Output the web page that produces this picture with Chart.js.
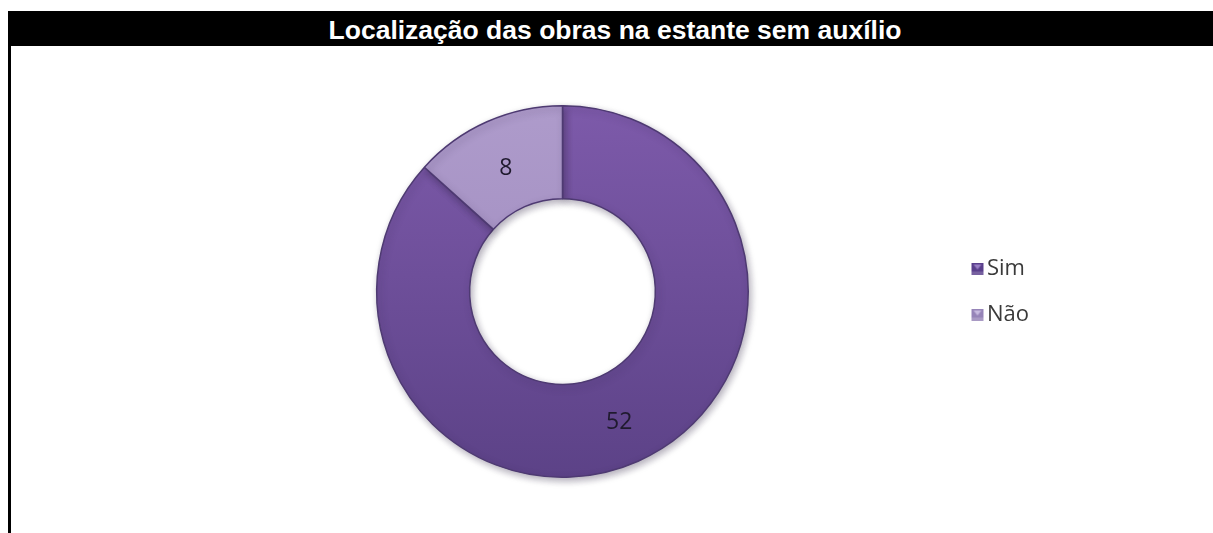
<!DOCTYPE html>
<html lang="pt">
<head>
<meta charset="utf-8">
<title>Localização das obras na estante sem auxílio</title>
<script src="https://cdn.jsdelivr.net/npm/chart.js@4/dist/chart.umd.min.js"></script>
<style>
  html, body { margin: 0; padding: 0; background: #fff; }
  body { width: 1213px; height: 533px; position: relative; overflow: hidden; }
  .frame {
    position: absolute; left: 8px; top: 11px; right: 0; bottom: 0;
    border-left: 3px solid #000;
  }
  .header {
    position: absolute; left: 8px; top: 11px; width: 1205px; height: 35px;
    background: #000; color: #fff; z-index: 2;
    font: bold 26.5px "Liberation Sans", Arial, sans-serif;
    line-height: 35px; text-align: center;
    box-sizing: border-box; padding: 2px 0 0 9px;
  }
  .chart-box { position: absolute; left: 0; top: 0; width: 1213px; height: 533px; z-index: 1; }
</style>
</head>
<body>
<div class="frame"></div>
<div class="header">Localização das obras na estante sem auxílio</div>
<div class="chart-box"><canvas id="obras"></canvas></div>

<script>
const categories = ['Sim', 'Não'];
const respostas = [52, 8];
// top and bottom shade of each slice
const coresTopo = ['#7d5aaa', '#ae9bcb'];
const coresBase = ['#5c4287', '#9a86ba'];
// legend swatch: body and lighter fold
const swatchCorpo = ['#5a3f8c', '#9684b8'];
const swatchBrilho = ['#9a80c6', '#c8bbe0'];

function sliceFill(context) {
  const chart = context.chart;
  const area = chart.chartArea;
  if (!area) return coresTopo[context.dataIndex];
  const g = chart.ctx.createLinearGradient(0, area.top, 0, area.bottom);
  g.addColorStop(0, coresTopo[context.dataIndex]);
  g.addColorStop(1, coresBase[context.dataIndex]);
  return g;
}

// 18px wide swatch, square sits on the right 12px so it hugs the label text
function makeSwatch(i) {
  const c = document.createElement('canvas');
  c.width = 18;
  c.height = 12;
  const g = c.getContext('2d');
  g.fillStyle = swatchCorpo[i];
  g.fillRect(5, 0, 12, 12);
  g.fillStyle = swatchBrilho[i];
  g.beginPath();
  g.moveTo(7, 2);
  g.lineTo(15, 2);
  g.lineTo(11, 7);
  g.closePath();
  g.fill();
  g.fillStyle = 'rgba(255,255,255,0.18)';
  g.fillRect(5, 9, 12, 3);
  return c;
}
const swatches = categories.map((_, i) => makeSwatch(i));

// soft shadow under the ring
const ringShadow = {
  id: 'ringShadow',
  beforeDatasetsDraw(chart) {
    const ctx = chart.ctx;
    ctx.save();
    ctx.shadowColor = 'rgba(40, 30, 60, 0.35)';
    ctx.shadowBlur = 7;
    ctx.shadowOffsetX = 2;
    ctx.shadowOffsetY = 3;
  },
  afterDatasetsDraw(chart) {
    chart.ctx.restore();
  }
};

// value written in the middle of each slice
const sliceValues = {
  id: 'sliceValues',
  afterDatasetsDraw(chart) {
    const ctx = chart.ctx;
    const meta = chart.getDatasetMeta(0);
    ctx.save();
    ctx.font = '23px "Open Sans", sans-serif';
    ctx.fillStyle = '#1f1a2e';
    ctx.textAlign = 'center';
    ctx.textBaseline = 'middle';
    meta.data.forEach((arc, i) => {
      const p = arc.tooltipPosition();
      ctx.fillText(String(chart.data.datasets[0].data[i]), p.x, p.y + 4);
    });
    ctx.restore();
  }
};

const baseLabels = Chart.overrides.doughnut.plugins.legend.labels.generateLabels;

new Chart(document.getElementById('obras'), {
  type: 'doughnut',
  data: {
    labels: categories,
    datasets: [{
      data: respostas,
      backgroundColor: sliceFill,
      borderColor: '#4e3a72',
      borderWidth: 1.5,
      hoverOffset: 0
    }]
  },
  options: {
    responsive: true,
    maintainAspectRatio: false,
    animation: false,
    cutout: '50%',
    layout: { padding: { top: 105, bottom: 55, left: 174, right: 174 } },
    plugins: {
      title: { display: false },
      tooltip: { enabled: false },
      legend: {
        position: 'right',
        labels: {
          usePointStyle: true,
          boxWidth: 1,
          padding: 24,
          color: '#3a3a3a',
          font: { family: '"Open Sans", sans-serif', size: 22 },
          generateLabels(chart) {
            return baseLabels(chart).map((item) => ({ ...item, pointStyle: swatches[item.index] }));
          }
        }
      }
    }
  },
  plugins: [ringShadow, sliceValues]
});
</script>
</body>
</html>
